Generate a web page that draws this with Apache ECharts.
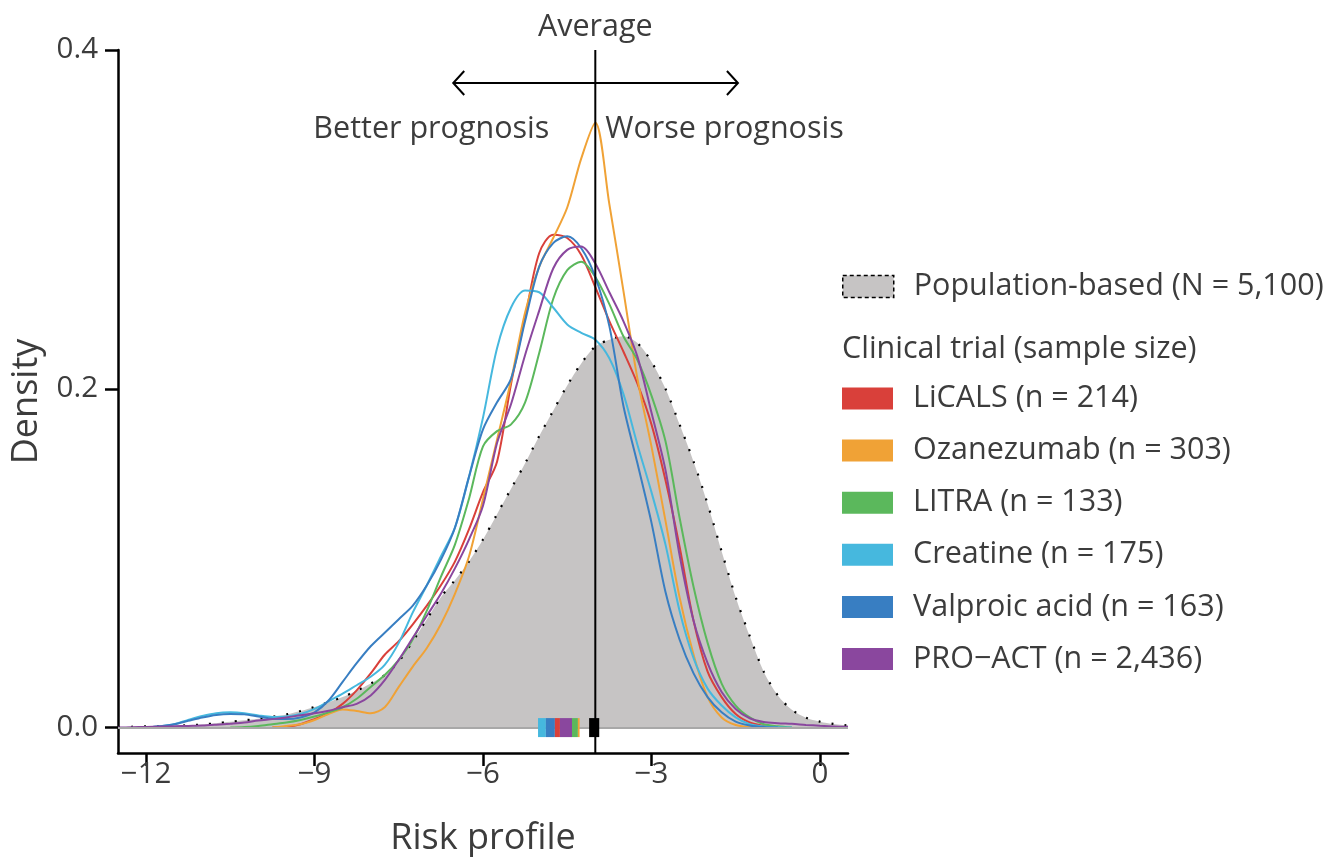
<!DOCTYPE html>
<html>
<head>
    <meta charset="utf-8">
    <title>Risk profile density</title>
    <script src="https://cdn.jsdelivr.net/npm/echarts@6/dist/echarts.min.js"></script>
    <style>
        html, body { margin: 0; padding: 0; background: #fff; }
        #chart { width: 1338px; height: 857px; }
    </style>
</head>
<body>
    <div id="chart"></div>

    <script type="text/javascript">
        // risk profile grid (x) shared by every density curve
        var riskX = [-12.5, -12.25, -12, -11.75, -11.5, -11.25, -11, -10.75, -10.5, -10.25, -10, -9.75, -9.5, -9.25, -9, -8.75, -8.5, -8.25, -8, -7.75, -7.5, -7.25, -7, -6.75, -6.5, -6.25, -6, -5.75, -5.5, -5.25, -5, -4.75, -4.5, -4.25, -4, -3.75, -3.5, -3.25, -3, -2.75, -2.5, -2.25, -2, -1.75, -1.5, -1.25, -1, -0.75, -0.5, -0.25, 0, 0.25, 0.5];

        var population = [0.0003, 0.0005, 0.0008, 0.0009, 0.001, 0.0014, 0.0018, 0.0026, 0.0034, 0.0043, 0.0052, 0.0064, 0.0078, 0.0098, 0.0122, 0.015, 0.018, 0.0218, 0.026, 0.031, 0.039, 0.051, 0.064, 0.077, 0.087, 0.098, 0.111, 0.126, 0.141, 0.156, 0.172, 0.187, 0.202, 0.215, 0.225, 0.229, 0.231, 0.227, 0.216, 0.2, 0.179, 0.157, 0.132, 0.104, 0.077, 0.054, 0.033, 0.019, 0.0105, 0.0058, 0.0035, 0.0021, 0.0012];

        var licals = [null, null, null, null, null, null, null, null, null, null, null,
            0, 0.0005, 0.002, 0.005, 0.0085, 0.014, 0.022, 0.032, 0.043, 0.051, 0.061, 0.072, 0.084, 0.098, 0.117, 0.139, 0.157, 0.203, 0.242, 0.28, 0.291, 0.289, 0.279, 0.26, 0.24, 0.222, 0.203, 0.179, 0.146, 0.107, 0.063, 0.033, 0.018, 0.008, 0.003, 0.001, 0,
            null, null, null, null, null];

        var ozanezumab = [null, null, null, null, null, null, null, null, null, null, null,
            0, 0.001, 0.002, 0.0045, 0.008, 0.0107, 0.0098, 0.0085, 0.012, 0.024, 0.036, 0.047, 0.061, 0.079, 0.101, 0.135, 0.17, 0.205, 0.245, 0.272, 0.289, 0.307, 0.336, 0.357, 0.309, 0.258, 0.206, 0.166, 0.122, 0.077, 0.043, 0.018, 0.006, 0.0015, 0.0003, 0,
            null, null, null, null, null, null];

        var litra = [null, null, null, null, null, null, null, null,
            0, 0.0003, 0.001, 0.002, 0.003, 0.0045, 0.0065, 0.009, 0.012, 0.017, 0.024, 0.031, 0.04, 0.052, 0.069, 0.089, 0.108, 0.135, 0.166, 0.175, 0.179, 0.192, 0.221, 0.253, 0.27, 0.275, 0.266, 0.25, 0.231, 0.217, 0.196, 0.169, 0.124, 0.083, 0.05, 0.026, 0.013, 0.006, 0.002, 0.0008, 0,
            null, null, null, null];

        var creatine = [null, null,
            0, 0.0008, 0.002, 0.0045, 0.0068, 0.0085, 0.009, 0.0085, 0.0072, 0.0063, 0.0065, 0.008, 0.011, 0.0155, 0.02, 0.025, 0.03, 0.037, 0.05, 0.068, 0.084, 0.101, 0.118, 0.148, 0.183, 0.224, 0.248, 0.258, 0.257, 0.248, 0.238, 0.233, 0.229, 0.218, 0.197, 0.167, 0.139, 0.108, 0.069, 0.041, 0.023, 0.013, 0.006, 0.002, 0.0007, 0.0002, 0,
            null, null, null, null];

        var valproic = [null, null,
            0, 0.0008, 0.002, 0.004, 0.006, 0.0075, 0.008, 0.0078, 0.0065, 0.0052, 0.005, 0.006, 0.009, 0.016, 0.027, 0.038, 0.048, 0.056, 0.064, 0.072, 0.084, 0.099, 0.118, 0.148, 0.176, 0.192, 0.206, 0.24, 0.272, 0.286, 0.29, 0.283, 0.266, 0.237, 0.19, 0.156, 0.121, 0.08, 0.052, 0.032, 0.018, 0.009, 0.0035, 0.0012, 0.0003, 0,
            null, null, null, null, null];

        var proact = [0, 0.0002, 0.0004, 0.0006, 0.0008, 0.001, 0.0012, 0.0017, 0.0023, 0.003, 0.0042, 0.005, 0.006, 0.0073, 0.0085, 0.01, 0.012, 0.014, 0.019, 0.028, 0.04, 0.053, 0.066, 0.079, 0.094, 0.111, 0.131, 0.168, 0.191, 0.22, 0.246, 0.271, 0.282, 0.284, 0.274, 0.257, 0.24, 0.219, 0.186, 0.152, 0.102, 0.063, 0.038, 0.021, 0.011, 0.0055, 0.0033, 0.0026, 0.0022, 0.0016, 0.0011, 0.0007, 0.0005];

        var popName = 'Population-based (N = 5,100)';
        var trialNames = ['LiCALS (n = 214)', 'Ozanezumab (n = 303)', 'LITRA (n = 133)', 'Creatine (n = 175)', 'Valproic acid (n = 163)', 'PRO\u2212ACT (n = 2,436)'];
        var trialCurves = [licals, ozanezumab, litra, creatine, valproic, proact];
        var trialColors = ['#d9403a', '#f0a236', '#5bb85c', '#46b8de', '#387ec2', '#8a479e'];

        // mean markers on the baseline (span on the risk axis), drawn in this order
        var markOrder = [3, 4, 0, 5, 2, 1];
        var markLo = [-5.02, -4.88, -4.72, -4.63, -4.415, -4.31];
        var markHi = [-4.88, -4.72, -4.63, -4.415, -4.31, -4.28];
        var popMark = [-4.11, -3.93];

        var averageRisk = -4.0;
        var xTicks = [-12, -9, -6, -3, 0];
        var yTicks = [0, 0.2, 0.4];

        var ink = '#3c3c3c';
        var font = 'Open Sans';
        var textSize = 30.5;

        function toPairs(arr) {
            var out = [];
            for (var i = 0; i < riskX.length; i++) {
                if (arr[i] != null) out.push([riskX[i], arr[i]]);
            }
            return out;
        }

        function minusFmt(v) {
            return v < 0 ? '\u2212' + Math.abs(v) : String(v);
        }

        var series = [{
            name: popName,
            type: 'line',
            data: toPairs(population),
            smooth: 0.3,
            showSymbol: false,
            color: '#c6c4c4',
            lineStyle: { color: '#000', width: 2.2, type: [2, 11] },
            areaStyle: { color: '#c6c4c4', opacity: 1 },
            z: 1,
            markLine: {
                silent: true,
                symbol: 'none',
                label: { show: false },
                lineStyle: { color: '#a8a8a8', width: 2, type: 'solid' },
                data: [{ yAxis: 0 }]
            }
        }];

        for (var k = 0; k < trialNames.length; k++) {
            series.push({
                name: trialNames[k],
                type: 'line',
                data: toPairs(trialCurves[k]),
                smooth: 0.3,
                showSymbol: false,
                color: trialColors[k],
                lineStyle: { width: 2 },
                z: 3
            });
        }

        // coloured mean markers + population mean
        var markData = [];
        for (var m = 0; m < markLo.length; m++) markData.push([markLo[m], markHi[m], markOrder[m]]);
        markData.push([popMark[0], popMark[1], -1]);

        series.push({
            type: 'custom',
            silent: true,
            z: 5,
            clip: false,
            data: markData,
            encode: { x: [0, 1] },
            renderItem: function (params, api) {
                var a = api.coord([api.value(0), 0]);
                var b = api.coord([api.value(1), 0]);
                var ci = api.value(2);
                return {
                    type: 'rect',
                    shape: { x: a[0], y: a[1] - 9.5, width: b[0] - a[0], height: 19 },
                    style: { fill: ci < 0 ? '#000' : trialColors[ci] }
                };
            }
        });

        // average line, arrow and prognosis labels
        series.push({
            type: 'custom',
            silent: true,
            z: 6,
            clip: false,
            data: [[averageRisk, 0.4]],
            renderItem: function (params, api) {
                var top = api.coord([averageRisk, 0.4]);
                var bot = api.coord([averageRisk, -0.015]);
                var a0 = api.coord([-6.53, 0.3805]);
                var a1 = api.coord([-1.46, 0.3805]);
                var ty = api.coord([averageRisk, 0.353])[1];
                var line = { stroke: '#000', lineWidth: 2, fill: null };
                var txt = function (s, x, y, al) {
                    return {
                        type: 'text', x: x, y: y,
                        style: {
                            text: s, fill: ink, fontSize: textSize, fontFamily: font,
                            textAlign: al, align: al, textVerticalAlign: 'middle', verticalAlign: 'middle'
                        }
                    };
                };
                return {
                    type: 'group',
                    children: [
                        { type: 'line', shape: { x1: top[0], y1: top[1], x2: bot[0], y2: bot[1] }, style: line },
                        { type: 'line', shape: { x1: a0[0], y1: a0[1], x2: a1[0], y2: a1[1] }, style: line },
                        { type: 'polyline', shape: { points: [[a0[0] + 11, a0[1] - 12], [a0[0], a0[1]], [a0[0] + 11, a0[1] + 12]] }, style: line },
                        { type: 'polyline', shape: { points: [[a1[0] - 11, a1[1] - 12], [a1[0], a1[1]], [a1[0] - 11, a1[1] + 12]] }, style: line },
                        txt('Average', top[0], top[1] - 23, 'center'),
                        txt('Better prognosis', top[0] - 46, ty, 'right'),
                        txt('Worse prognosis', top[0] + 10, ty, 'left')
                    ]
                };
            }
        });

        var legendText = { fontSize: textSize, color: ink, fontFamily: font, padding: [0, 0, 0, 15] };

        var option = {
            animation: false,
            backgroundColor: '#fff',
            textStyle: { fontFamily: font },
            title: {
                text: 'Clinical trial (sample size)',
                left: 842,
                top: 334,
                padding: 0,
                textStyle: { fontSize: textSize, fontWeight: 'normal', color: ink, fontFamily: font }
            },
            legend: [{
                data: [popName],
                left: 842,
                top: 271,
                padding: 0,
                orient: 'vertical',
                selectedMode: false,
                icon: 'rect',
                itemWidth: 51,
                itemHeight: 22,
                itemStyle: { borderColor: '#000', borderWidth: 1.5, borderType: [4, 3] },
                textStyle: legendText
            }, {
                data: trialNames,
                left: 842,
                top: 383,
                padding: 0,
                orient: 'vertical',
                selectedMode: false,
                icon: 'rect',
                itemWidth: 51,
                itemHeight: 22,
                itemGap: 21.1,
                itemStyle: { borderWidth: 0 },
                textStyle: legendText
            }],
            grid: { left: 118, right: 490, top: 50, bottom: 104, containLabel: false, outerBoundsMode: 'none' },
            xAxis: {
                type: 'value',
                min: -12.5,
                max: 0.5,
                name: 'Risk profile',
                nameLocation: 'middle',
                nameGap: 68,
                nameTextStyle: { fontSize: 36, color: ink, fontFamily: font },
                axisLine: { onZero: false, lineStyle: { color: '#000', width: 2.5 } },
                axisTick: { customValues: xTicks, length: 13, lineStyle: { color: '#000', width: 2.5 } },
                axisLabel: { customValues: xTicks, formatter: minusFmt, fontSize: 29.5, color: ink, fontFamily: font, margin: 7 },
                splitLine: { show: false }
            },
            yAxis: {
                type: 'value',
                min: -0.015,
                max: 0.4,
                name: 'Density',
                nameLocation: 'middle',
                nameGap: 73,
                nameTextStyle: { fontSize: 36, color: ink, fontFamily: font },
                axisLine: { show: true, onZero: false, lineStyle: { color: '#000', width: 2.5 } },
                axisTick: { show: true, customValues: yTicks, length: 13, lineStyle: { color: '#000', width: 2.5 } },
                axisLabel: { customValues: yTicks, formatter: function (v) { return v.toFixed(1); }, fontSize: 29.5, color: ink, fontFamily: font, margin: 20 },
                splitLine: { show: false }
            },
            series: series
        };

        var chart = echarts.init(document.getElementById('chart'));
        chart.setOption(option);
    </script>
</body>
</html>
